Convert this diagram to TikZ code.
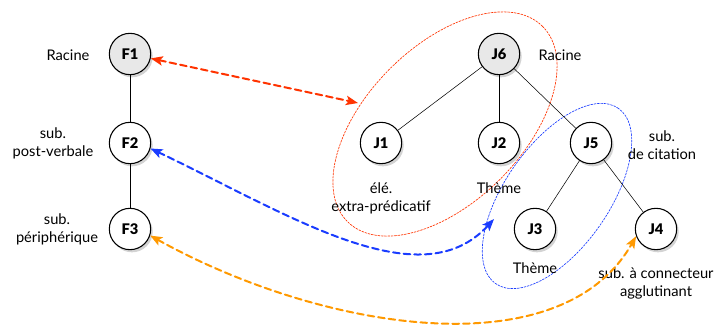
\documentclass[tikz,border=0pt]{standalone}
\usepackage{fontspec}
\setmainfont{Lato}[BoldFont={Lato Black}]
\usetikzlibrary{arrows.meta,shadows}

\definecolor{redlink}{HTML}{FF3300}
\definecolor{bluelink}{HTML}{1A3CFF}
\definecolor{orangelink}{HTML}{FF9900}
\definecolor{rootgray}{HTML}{E8E8E8}

\tikzset{
  tnode/.style={circle,draw,thick,fill=white,minimum size=31pt,inner sep=0pt,
    font=\fontsize{11}{12}\selectfont\bfseries,
    drop shadow={shadow xshift=1.5pt,shadow yshift=-2pt,opacity=0.35}},
  troot/.style={tnode,fill=rootgray},
  lbl/.style={align=center,font=\fontsize{11}{13.5}\selectfont},
  link/.style={line width=1.5pt,dash pattern=on 5pt off 3pt,
    {Stealth[length=9pt,width=7pt,inset=2pt]}-{Stealth[length=9pt,width=7pt,inset=2pt]}},
  group/.style={line width=0.5pt,dash pattern=on 1.5pt off 1pt}
}

\begin{document}
\begin{tikzpicture}[x=0.75pt,y=0.75pt,line cap=round,line join=round]
    \useasboundingbox (0,0) rectangle (716,-327);

    % groups
    \draw[group,redlink,rotate around={45:(445,-124)}] (445,-124) ellipse [x radius=138, y radius=78];
    \draw[group,bluelink,rotate around={55:(557,-196)}] (557,-196) ellipse [x radius=107, y radius=52];

    % tree F
    \node[troot] (F1) at (130,-54) {F1};
    \node[tnode] (F2) at (130,-143) {F2};
    \node[tnode] (F3) at (130,-229) {F3};

    % tree J
    \node[troot] (J6) at (499,-54) {J6};
    \node[tnode] (J1) at (381,-143) {J1};
    \node[tnode] (J2) at (499,-143) {J2};
    \node[tnode] (J5) at (591,-143) {J5};
    \node[tnode] (J3) at (535,-229) {J3};
    \node[tnode] (J4) at (656,-229) {J4};

    % edges
    \draw (F1) -- (F2);
    \draw (F2) -- (F3);
    \draw (J6) -- (J1);
    \draw (J6) -- (J2);
    \draw (J6) -- (J5);
    \draw (J5) -- (J3);
    \draw (J5) -- (J4);

    % labels
    \node[lbl] (lF1) at (68,-55) {Racine};
    \node[lbl] (lF2) at (53,-143) {sub.\\post-verbale};
    \node[lbl] (lF3) at (57,-229) {sub.\\périphérique};
    \node[lbl] (lJ6) at (560,-55) {Racine};
    \node[lbl] (lJ5) at (662,-145) {sub.\\de citation};
    \node[lbl] (lJ1) at (381,-198) {élé.\\extra-prédicatif};
    \node[lbl] (lJ2) at (499,-188) {Thème};
    \node[lbl] (lJ3) at (535,-268) {Thème};
    \node[lbl] (lJ4) at (656,-283) {sub. à connecteur\\agglutinant};

    % links
    \coordinate (redend) at (358,-103);
    \coordinate (blueend) at (494,-219);
    \draw[link,redlink] (F1.-12) -- (redend);
    \draw[link,bluelink] (F2.-15) .. controls (290,-215) and (420,-300) .. (blueend);
    \draw[link,orangelink] (F3.-18) .. controls (320,-330) and (560,-370) .. (J4.200);

\end{tikzpicture}
\end{document}
